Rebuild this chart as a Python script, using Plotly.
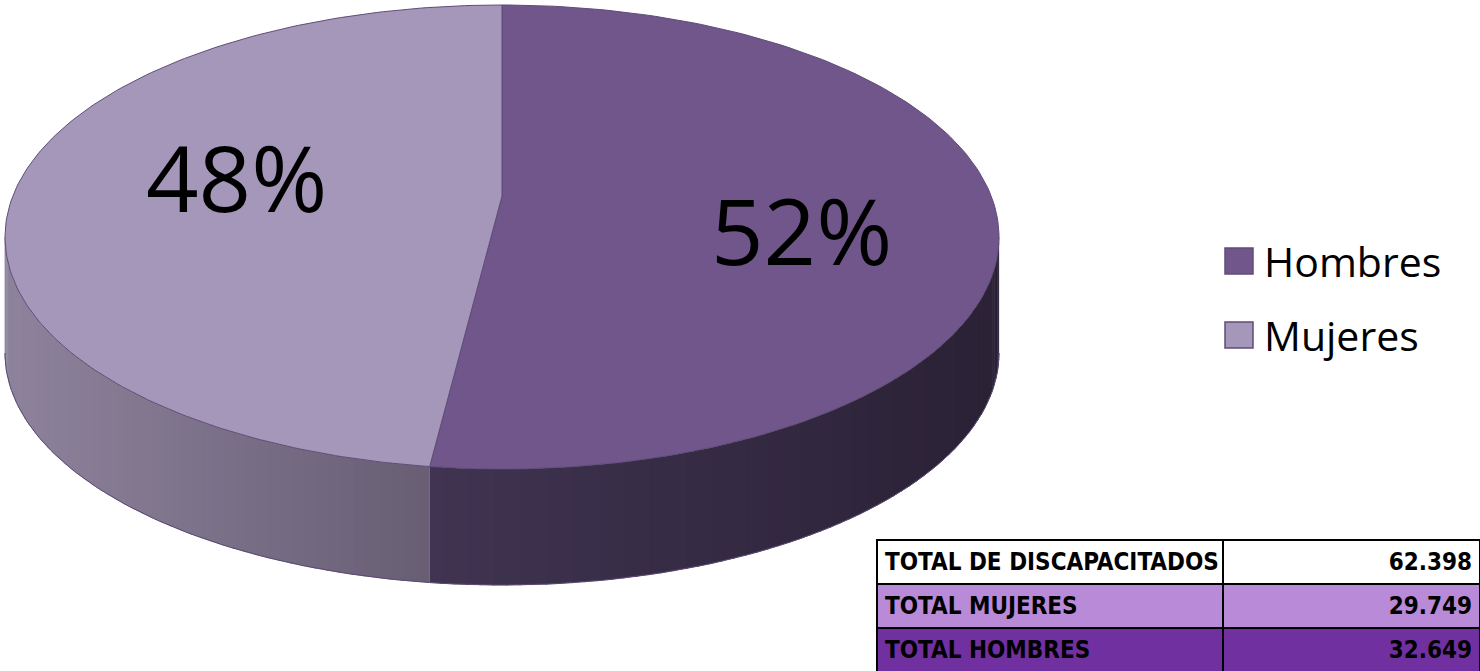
import numpy as np
import plotly.graph_objects as go

# ---- data ----
categories = ["Hombres", "Mujeres"]
values = [32649, 29749]
slice_colors = ["#70568b", "#a597ba"]
side_shades = {"Hombres": ("#403452", "#2a2135"), "Mujeres": ("#675e74", "#8e839c")}
table_labels = ["TOTAL DE DISCAPACITADOS", "TOTAL MUJERES", "TOTAL HOMBRES"]
table_fills = ["#ffffff", "#b88ad8", "#7030a0"]

# ---- geometry of the pseudo-3D pie (pixel space) ----
W, H = 1480, 671
cx, cy = 502, 237      # ellipse centre
a, b = 497, 232        # semi axes
hub_x, hub_y = 502, 196
depth = 116


def pt(deg):
    r = np.radians(deg)
    return cx + a * np.sin(r), cy - b * np.cos(r)


def hexrgb(h):
    return np.array([int(h[i:i + 2], 16) for i in (1, 3, 5)], dtype=float)


def mix(c0, c1, t):
    c = hexrgb(c0) * (1 - t) + hexrgb(c1) * t
    return "rgb(%d,%d,%d)" % tuple(c.round())


total = sum(values)
fracs = [v / total for v in values]
starts = np.concatenate([[0], np.cumsum(fracs)[:-1]]) * 360
ends = np.cumsum(fracs) * 360

fig = go.Figure()

# side walls (front half only: 90..270 deg clockwise from top)
for cat, s, e in zip(categories, starts, ends):
    lo, hi = max(s, 90), min(e, 270)
    if hi <= lo:
        continue
    c_near, c_far = side_shades[cat]
    n = max(4, int((hi - lo) / 1.5))
    edges = np.linspace(lo, hi, n + 1)
    xs_all = [pt(d)[0] for d in edges]
    xmin, xmax = min(xs_all), max(xs_all)
    for d0, d1 in zip(edges[:-1], edges[1:]):
        x0, y0 = pt(d0)
        x1, y1 = pt(d1)
        xm = (x0 + x1) / 2
        if cat == "Hombres":
            t = (xm - xmin) / (xmax - xmin)
        else:
            t = (xmax - xm) / (xmax - xmin)
        col = mix(c_near, c_far, t)
        arc = np.linspace(d0, d1 + 0.3 if d1 < hi else d1, 4)
        top = [pt(d) for d in arc]
        xs = [p[0] for p in top] + [p[0] for p in top[::-1]]
        ys = [p[1] for p in top] + [p[1] + depth for p in top[::-1]]
        fig.add_trace(go.Scatter(x=xs, y=ys, mode="lines", fill="toself",
                                 fillcolor=col, line=dict(width=0.5, color=col),
                                 hoverinfo="skip", showlegend=False))
    arc = np.linspace(lo, hi, 80)
    fig.add_trace(go.Scatter(x=[pt(d)[0] for d in arc], y=[pt(d)[1] + depth for d in arc],
                             mode="lines", line=dict(color="#5a4872", width=1),
                             hoverinfo="skip", showlegend=False))

# top faces
for cat, s, e, col in zip(categories, starts, ends, slice_colors):
    arc = np.linspace(s, e, 200)
    xs = [hub_x] + [pt(d)[0] for d in arc] + [hub_x]
    ys = [hub_y] + [pt(d)[1] for d in arc] + [hub_y]
    fig.add_trace(go.Scatter(x=xs, y=ys, mode="lines", fill="toself", fillcolor=col,
                             line=dict(color="#5f4c78", width=1), name=cat,
                             hoverinfo="skip", showlegend=False))

# percentage labels
for cat, s, e, f in zip(categories, starts, ends, fracs):
    mid = np.radians((s + e) / 2)
    lx = hub_x + 17 + a * 0.57 * np.sin(mid)
    ly = hub_y - b * 0.57 * np.cos(mid) + (24 if cat == "Hombres" else -10)
    fig.add_annotation(x=lx, y=ly, xref="x", yref="y", text=f"{round(f * 100)}%",
                       showarrow=False, font=dict(family="Open Sans", size=92, color="black"))

# legend (drawn manually to match the large legend)
for i, (cat, col) in enumerate(zip(categories, slice_colors)):
    yc = 261 + i * 74
    fig.add_shape(type="rect", xref="x", yref="y", x0=1225, x1=1253, y0=yc - 13, y1=yc + 13,
                  fillcolor=col, line=dict(color="#5f4c78", width=1.5))
    fig.add_annotation(x=1262, y=yc, xref="x", yref="y", text=cat, showarrow=False,
                       xanchor="left", yanchor="middle",
                       font=dict(family="Open Sans", size=41, color="black"))

# summary table
def fmt(v):
    return f"{v:,}".replace(",", ".")

def nb(s):
    return "<b>" + s.replace(" ", "\u00a0") + "</b>"

table_values = [fmt(total), fmt(values[1]), fmt(values[0])]
tfont = dict(family="DejaVu Sans Condensed, DejaVu Sans, sans-serif", size=24, color="black")
fig.add_trace(go.Table(
    domain=dict(x=[877 / W, 1.0], y=[0, 131 / H]),
    columnwidth=[346, 257],
    header=dict(values=[nb(table_labels[0]), nb(table_values[0])],
                fill_color=table_fills[0], align=["left", "right"], height=43,
                line=dict(color="black", width=2), font=tfont),
    cells=dict(values=[[nb(t) for t in table_labels[1:]],
                       [nb(v) for v in table_values[1:]]],
               fill_color=[table_fills[1:], table_fills[1:]], align=["left", "right"],
               height=44, line=dict(color="black", width=2), font=tfont),
))

fig.update_layout(
    width=W, height=H, margin=dict(l=0, r=0, t=0, b=0),
    paper_bgcolor="white", plot_bgcolor="white", showlegend=False,
    xaxis=dict(range=[0, W], visible=False, fixedrange=True),
    yaxis=dict(range=[H, 0], visible=False, fixedrange=True),
)

fig.write_html("out.html", config={"displayModeBar": False},
               post_script="document.body.style.margin='0';")
